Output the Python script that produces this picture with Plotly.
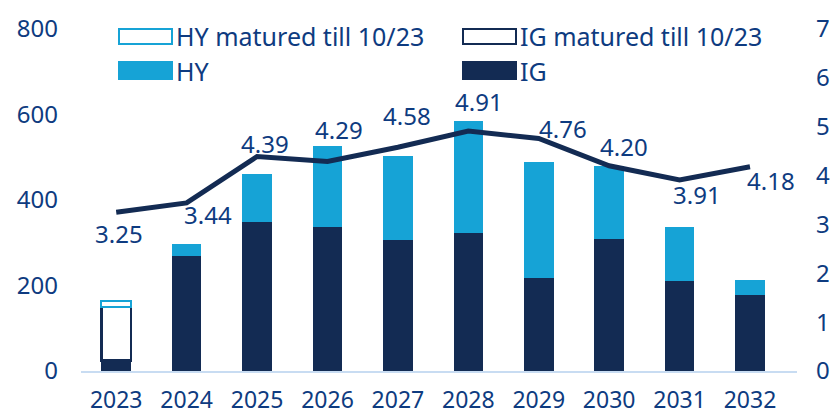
import plotly.graph_objects as go

# ---- data ----
years = ["2023", "2024", "2025", "2026", "2027", "2028", "2029", "2030", "2031", "2032"]
ig = [25, 270, 349, 338, 306, 322, 218, 309, 210, 178]
ig_matured = [125, None, None, None, None, None, None, None, None, None]
hy = [None, 28, 113, 189, 198, 263, 270, 171, 127, 36]
hy_matured = [14, None, None, None, None, None, None, None, None, None]
yield_vals = [3.25, 3.44, 4.39, 4.29, 4.58, 4.91, 4.76, 4.20, 3.91, 4.18]
yield_labels = ["3.25", "3.44", "4.39", "4.29", "4.58", "4.91", "4.76", "4.20", "3.91", "4.18"]
left_ticks = [0, 200, 400, 600, 800]
right_ticks = [0, 1, 2, 3, 4, 5, 6, 7]

# ---- style ----
OFF = 8  # page body margin in the browser
W, H = 839 - OFF, 416 - OFF
ML, MR, MT, MB = 81 - OFF, 42, 29 - OFF, 45
PW, PH = W - ML - MR, H - MT - MB
NAVY = "#132B53"
HYC = "#16A3D6"
TXT = "#0E3B80"
FONT = "Noto Sans"
FS = 24

# label pixel offsets (dx right, dy up)
label_dx = [3, 21, 8, 12, 9, 11, 24, 15, 17, 21]
label_dy = [-21, -12, 13, 32, 32, 30, 10, 19, -15, -14]

fig = go.Figure()
fig.add_trace(go.Bar(x=years, y=ig, name="IG", marker=dict(color=NAVY, line=dict(width=0)),
                     showlegend=False))
fig.add_trace(go.Bar(x=years, y=ig_matured, name="IG matured till 10/23",
                     marker=dict(color="white", line=dict(color=NAVY, width=2.5)), showlegend=False))
fig.add_trace(go.Bar(x=years, y=hy, name="HY", marker=dict(color=HYC, line=dict(width=0)),
                     showlegend=False))
fig.add_trace(go.Bar(x=years, y=hy_matured, name="HY matured till 10/23",
                     marker=dict(color="white", line=dict(color=HYC, width=2)), showlegend=False))
fig.add_trace(go.Scatter(x=years, y=yield_vals, yaxis="y2", mode="lines",
                         line=dict(color=NAVY, width=5), showlegend=False))

# on a category axis, annotation x is the category index
for i, (v, t) in enumerate(zip(yield_vals, yield_labels)):
    fig.add_annotation(x=i, y=v, xref="x", yref="y2", text=t, showarrow=False,
                       xshift=label_dx[i], yshift=label_dy[i],
                       font=dict(family=FONT, size=FS, color=TXT))

# manual legend (screen pixel positions converted to paper coords)
def px(x):
    return (x - OFF - ML) / PW

def py(y):
    return (H + OFF - MB - y) / PH

legend_items = [
    ("HY matured till 10/23", 119, 172, 29, 44, "white", HYC),
    ("IG matured till 10/23", 463, 516, 29, 44, "white", NAVY),
    ("HY", 119, 172, 62, 79, HYC, HYC),
    ("IG", 463, 516, 62, 79, NAVY, NAVY),
]
for name, x0, x1, y0, y1, fill, edge in legend_items:
    fig.add_shape(type="rect", xref="paper", yref="paper",
                  x0=px(x0), x1=px(x1), y0=py(y1), y1=py(y0),
                  fillcolor=fill, line=dict(color=edge, width=2), layer="above")
    fig.add_annotation(xref="paper", yref="paper", x=px(x1 + 2), y=py((y0 + y1) / 2),
                       xanchor="left", yanchor="middle", text=name, showarrow=False,
                       font=dict(family=FONT, size=25, color=TXT))

fig.update_layout(
    width=W, height=H,
    margin=dict(l=ML, r=MR, t=MT, b=MB, autoexpand=False),
    barmode="stack", bargap=0.58,
    plot_bgcolor="white", paper_bgcolor="white",
    font=dict(family=FONT, size=FS, color=TXT),
    xaxis=dict(type="category", showgrid=False, showline=True, linecolor="#C8DCF2", linewidth=2,
               ticks="", ticklabelstandoff=7, automargin=False,
               tickfont=dict(family=FONT, size=23, color=TXT)),
    yaxis=dict(range=[0, 800], tickvals=left_ticks, showgrid=False, zeroline=False,
               showline=False, ticks="", ticklabelstandoff=22, automargin=False,
               tickfont=dict(family=FONT, size=FS, color=TXT)),
    yaxis2=dict(range=[0, 7], tickvals=right_ticks, overlaying="y", side="right",
                showgrid=False, zeroline=False, showline=False, ticks="", automargin=False,
                ticklabelstandoff=18, tickfont=dict(family=FONT, size=FS, color=TXT)),
)

fig.write_html("out.html")
